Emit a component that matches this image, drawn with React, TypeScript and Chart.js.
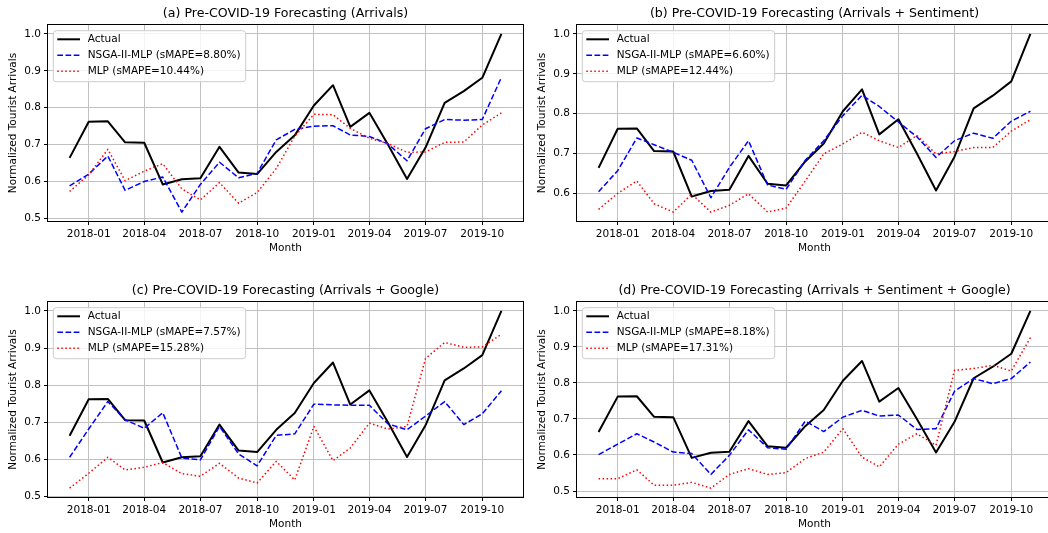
import React, { useEffect, useRef } from "react";
import { Chart, registerables } from "chart.js";
Chart.register(...registerables);

const months = [
  "2017-12", "2018-01", "2018-02", "2018-03", "2018-04", "2018-05", "2018-06", "2018-07",
  "2018-08", "2018-09", "2018-10", "2018-11", "2018-12", "2019-01", "2019-02", "2019-03",
  "2019-04", "2019-05", "2019-06", "2019-07", "2019-08", "2019-09", "2019-10", "2019-11",
];
const xTickLabels = ["2018-01", "2018-04", "2018-07", "2018-10", "2019-01", "2019-04", "2019-07", "2019-10"];
const yTickValues = [0.5, 0.6, 0.7, 0.8, 0.9, 1.0];

const actual = [0.664, 0.762, 0.763, 0.706, 0.705, 0.592, 0.606, 0.609, 0.694, 0.624, 0.620, 0.680, 0.725, 0.806, 0.861, 0.748, 0.786, 0.700, 0.607, 0.692, 0.813, 0.845, 0.881, 1.000];

const nsgaArrivals = [0.588, 0.620, 0.669, 0.576, 0.600, 0.612, 0.517, 0.592, 0.652, 0.610, 0.622, 0.713, 0.741, 0.750, 0.751, 0.726, 0.722, 0.702, 0.656, 0.743, 0.768, 0.766, 0.768, 0.882];
const mlpArrivals = [0.573, 0.618, 0.687, 0.602, 0.628, 0.648, 0.580, 0.550, 0.597, 0.541, 0.570, 0.635, 0.723, 0.782, 0.781, 0.744, 0.717, 0.703, 0.679, 0.680, 0.706, 0.707, 0.753, 0.786];

const nsgaSentiment = [0.604, 0.657, 0.739, 0.722, 0.703, 0.683, 0.589, 0.665, 0.732, 0.621, 0.610, 0.683, 0.732, 0.795, 0.846, 0.818, 0.779, 0.742, 0.690, 0.732, 0.751, 0.738, 0.781, 0.806];
const mlpSentiment = [0.560, 0.600, 0.631, 0.574, 0.553, 0.598, 0.553, 0.570, 0.599, 0.553, 0.563, 0.631, 0.699, 0.724, 0.753, 0.732, 0.715, 0.745, 0.699, 0.705, 0.715, 0.715, 0.756, 0.785];

const nsgaGoogle = [0.606, 0.682, 0.756, 0.707, 0.684, 0.726, 0.604, 0.599, 0.689, 0.615, 0.583, 0.665, 0.669, 0.749, 0.747, 0.746, 0.746, 0.696, 0.680, 0.717, 0.756, 0.694, 0.723, 0.785];
const mlpGoogle = [0.523, 0.563, 0.606, 0.572, 0.579, 0.592, 0.562, 0.555, 0.590, 0.550, 0.537, 0.595, 0.545, 0.689, 0.597, 0.631, 0.698, 0.682, 0.689, 0.872, 0.915, 0.902, 0.903, 0.937];

const nsgaAll = [0.601, 0.630, 0.659, 0.636, 0.608, 0.604, 0.546, 0.599, 0.670, 0.620, 0.616, 0.694, 0.665, 0.705, 0.724, 0.708, 0.711, 0.671, 0.673, 0.777, 0.812, 0.798, 0.812, 0.858];
const mlpAll = [0.534, 0.534, 0.559, 0.516, 0.516, 0.524, 0.508, 0.546, 0.562, 0.546, 0.551, 0.590, 0.608, 0.673, 0.594, 0.567, 0.630, 0.659, 0.627, 0.835, 0.840, 0.849, 0.833, 0.926];

const panelTitles = [
  "(a) Pre-COVID-19 Forecasting (Arrivals)",
  "(b) Pre-COVID-19 Forecasting (Arrivals + Sentiment)",
  "(c) Pre-COVID-19 Forecasting (Arrivals + Google)",
  "(d) Pre-COVID-19 Forecasting (Arrivals + Sentiment + Google)",
];
const actualName = "Actual";
const nsgaNames = ["NSGA-II-MLP (sMAPE=8.80%)", "NSGA-II-MLP (sMAPE=6.60%)", "NSGA-II-MLP (sMAPE=7.57%)", "NSGA-II-MLP (sMAPE=8.18%)"];
const mlpNames = ["MLP (sMAPE=10.44%)", "MLP (sMAPE=12.44%)", "MLP (sMAPE=15.28%)", "MLP (sMAPE=17.31%)"];
const nsgaSeries = [nsgaArrivals, nsgaSentiment, nsgaGoogle, nsgaAll];
const mlpSeries = [mlpArrivals, mlpSentiment, mlpGoogle, mlpAll];
const xAxisTitle = "Month";
const yAxisTitle = "Normalized Tourist Arrivals";

const FONT = "'DejaVu Sans', sans-serif";
const TICK_SIZE = 10.5;
const TITLE_SIZE = 12.6;

function dayNum(s: string) {
  const [y, m] = s.split("-").map(Number);
  return Date.UTC(y, m - 1, 1) / 86400000;
}

const layouts = [
  { left: 0, top: 0, w: 530, h: 262, yW: 48, padTop: 25, padRight: 7, xH: 41 },
  { left: 530, top: 0, w: 530, h: 262, yW: 47, padTop: 25, padRight: 8, xH: 41 },
  { left: 0, top: 276, w: 530, h: 257, yW: 48, padTop: 26, padRight: 7, xH: 36 },
  { left: 530, top: 276, w: 530, h: 257, yW: 47, padTop: 26, padRight: 8, xH: 36 },
];

const BLUE_DASH = [5.7, 2.5];
const RED_DOT = [1.5, 2.5];

function Panel({ idx }: { idx: number }) {
  const ref = useRef<HTMLCanvasElement | null>(null);
  const L = layouts[idx];
  useEffect(() => {
    const canvas = ref.current!;
    const series = [actual, nsgaSeries[idx], mlpSeries[idx]];
    const all = series.flat();
    const lo = Math.min(...all);
    const hi = Math.max(...all);
    const yMin = lo - 0.05 * (hi - lo);
    const yMax = hi + 0.05 * (hi - lo);
    const d0 = dayNum(months[0]);
    const d1 = dayNum(months[months.length - 1]);
    const xMin = d0 - 0.05 * (d1 - d0);
    const xMax = d1 + 0.05 * (d1 - d0);
    const toPts = (arr: number[]) => arr.map((v, i) => ({ x: dayNum(months[i]), y: v }));

    const legendItems = [
      { label: actualName, color: "#000000", width: 2, dash: [] as number[] },
      { label: nsgaNames[idx], color: "#0000ff", width: 1.5, dash: BLUE_DASH },
      { label: mlpNames[idx], color: "#ff0000", width: 1.5, dash: RED_DOT },
    ];

    const framePlugin = {
      id: "frame" + idx,
      afterDatasetsDraw(chart: any) {
        const { ctx, chartArea: a } = chart;
        ctx.save();
        ctx.strokeStyle = "#000";
        ctx.lineWidth = 1;
        ctx.strokeRect(a.left - 0.5, a.top - 0.5, a.right - a.left + 1, a.bottom - a.top + 1);
        // legend
        ctx.font = `${TICK_SIZE}px ${FONT}`;
        const bx = a.left + 5.3;
        const by = a.top + 5.7;
        const textX = bx + 34.4;
        const maxW = Math.max(...legendItems.map((it) => ctx.measureText(it.label).width));
        const bw = textX - bx + maxW + 5;
        const bh = 51;
        const r = 3;
        ctx.beginPath();
        ctx.moveTo(bx + r, by);
        ctx.lineTo(bx + bw - r, by);
        ctx.arcTo(bx + bw, by, bx + bw, by + r, r);
        ctx.lineTo(bx + bw, by + bh - r);
        ctx.arcTo(bx + bw, by + bh, bx + bw - r, by + bh, r);
        ctx.lineTo(bx + r, by + bh);
        ctx.arcTo(bx, by + bh, bx, by + bh - r, r);
        ctx.lineTo(bx, by + r);
        ctx.arcTo(bx, by, bx + r, by, r);
        ctx.closePath();
        ctx.fillStyle = "rgba(255,255,255,0.8)";
        ctx.fill();
        ctx.strokeStyle = "#cccccc";
        ctx.lineWidth = 1;
        ctx.stroke();
        legendItems.forEach((it, k) => {
          const yy = by + 8.6 + k * 16;
          ctx.beginPath();
          ctx.setLineDash(it.dash);
          ctx.strokeStyle = it.color;
          ctx.lineWidth = it.width;
          ctx.moveTo(bx + 4, yy);
          ctx.lineTo(bx + 26.7, yy);
          ctx.stroke();
          ctx.setLineDash([]);
          ctx.fillStyle = "#000";
          ctx.textAlign = "left";
          ctx.textBaseline = "middle";
          ctx.fillText(it.label, textX, yy);
        });
        ctx.restore();
      },
      afterDraw(chart: any) {
        const { ctx, chartArea: a } = chart;
        const cx = (a.left + a.right) / 2;
        const cy = (a.top + a.bottom) / 2;
        ctx.save();
        ctx.fillStyle = "#000";
        ctx.textAlign = "center";
        ctx.textBaseline = "middle";
        ctx.font = `${TITLE_SIZE}px ${FONT}`;
        ctx.fillText(panelTitles[idx], cx, a.top - 11);
        ctx.font = `${TICK_SIZE}px ${FONT}`;
        ctx.fillText(xAxisTitle, cx, a.bottom + 27);
        ctx.translate(a.left - 35, cy);
        ctx.rotate(-Math.PI / 2);
        ctx.fillText(yAxisTitle, 0, 0);
        ctx.restore();
      },
    };

    const tickFont = { family: FONT, size: TICK_SIZE };
    const chart = new Chart(canvas, {
      type: "line",
      data: {
        datasets: [
          {
            label: actualName,
            data: toPts(actual),
            borderColor: "#000000",
            borderWidth: 2,
            pointRadius: 0,
            tension: 0,
            borderJoinStyle: "round",
            order: 3,
          },
          {
            label: nsgaNames[idx],
            data: toPts(nsgaSeries[idx]),
            borderColor: "#0000ff",
            borderWidth: 1.5,
            borderDash: BLUE_DASH,
            pointRadius: 0,
            tension: 0,
            borderJoinStyle: "round",
            order: 2,
          },
          {
            label: mlpNames[idx],
            data: toPts(mlpSeries[idx]),
            borderColor: "#ff0000",
            borderWidth: 1.5,
            borderDash: RED_DOT,
            pointRadius: 0,
            tension: 0,
            borderJoinStyle: "round",
            order: 1,
          },
        ],
      } as any,
      options: {
        animation: false,
        responsive: false,
        maintainAspectRatio: false,
        events: [],
        layout: { padding: { left: 0, top: L.padTop, right: L.padRight, bottom: 0 } },
        plugins: { legend: { display: false }, title: { display: false }, tooltip: { enabled: false } },
        scales: {
          x: {
            type: "linear",
            min: xMin,
            max: xMax,
            afterBuildTicks: (s: any) => {
              s.ticks = xTickLabels.map((l) => ({ value: dayNum(l) }));
            },
            afterFit: (s: any) => {
              s.height = L.xH;
            },
            ticks: {
              callback: (_v: any, i: number) => xTickLabels[i],
              font: tickFont,
              color: "#000",
              padding: 3,
              maxRotation: 0,
              autoSkip: false,
            },
            grid: { color: "#c0c0c0", lineWidth: 1, tickColor: "#000", tickLength: 4, drawTicks: true },
            border: { display: false },
          },
          y: {
            type: "linear",
            min: yMin,
            max: yMax,
            afterBuildTicks: (s: any) => {
              s.ticks = yTickValues.filter((v) => v >= yMin - 1e-9 && v <= yMax + 1e-9).map((v) => ({ value: v }));
            },
            afterFit: (s: any) => {
              s.width = L.yW;
            },
            ticks: {
              callback: (v: any) => Number(v).toFixed(1),
              font: tickFont,
              color: "#000",
              padding: 3,
              autoSkip: false,
            },
            grid: { color: "#c0c0c0", lineWidth: 1, tickColor: "#000", tickLength: 4, drawTicks: true },
            border: { display: false },
          },
        },
      } as any,
      plugins: [framePlugin],
    });
    return () => chart.destroy();
  }, [idx]);
  return (
    <canvas
      ref={ref}
      width={L.w}
      height={L.h}
      style={{ position: "absolute", left: L.left, top: L.top, width: L.w, height: L.h }}
    />
  );
}

export default function App() {
  return (
    <div
      style={{
        position: "fixed",
        left: 0,
        top: 0,
        width: 1048,
        height: 533,
        overflow: "hidden",
        background: "#ffffff",
      }}
    >
      {[0, 1, 2, 3].map((i) => (
        <Panel key={i} idx={i} />
      ))}
    </div>
  );
}
